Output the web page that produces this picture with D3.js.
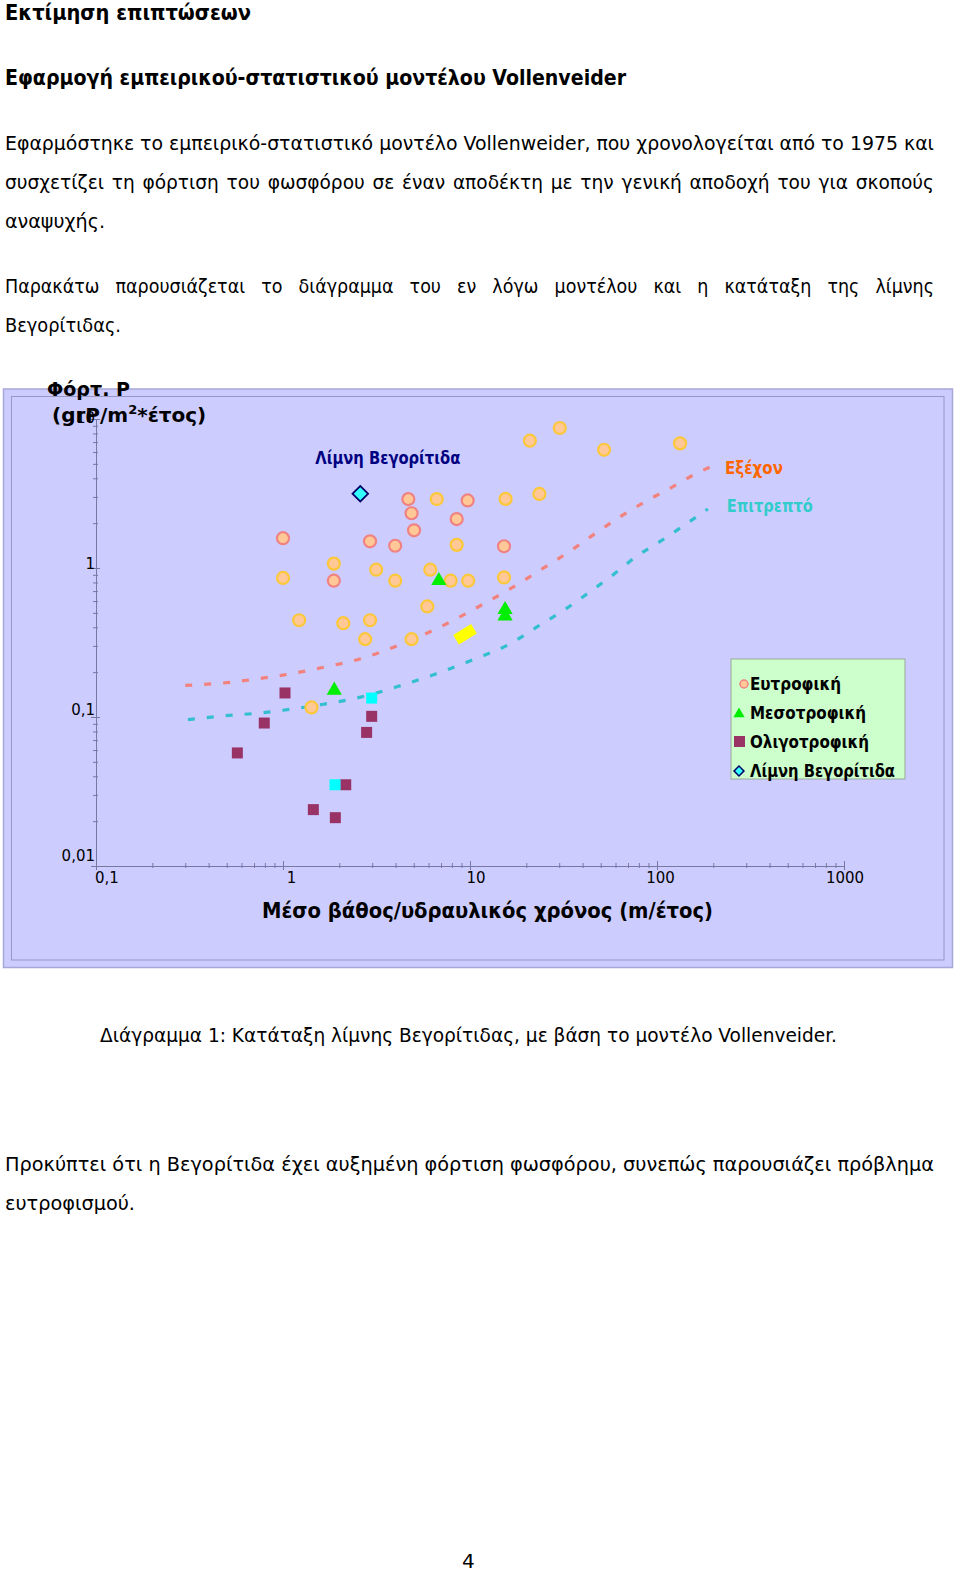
<!DOCTYPE html>
<html>
<head>
<meta charset="utf-8">
<script src="https://cdn.jsdelivr.net/npm/d3@7"></script>
<style>
  body { margin: 0; background: #fff; }
  svg text { font-family: "DejaVu Sans", Verdana, sans-serif; }
</style>
</head>
<body>
<svg id="page" width="960" height="1572"></svg>
<script>
// ---- values ----
// eutrophic lakes, pink outline
const eutroPinkX = [4.68, 4.87, 5.02, 9.72, 8.49, 1.0, 2.92, 3.98, 15.2, 1.87];
const eutroPinkY = [2.90, 2.33, 1.79, 2.84, 2.13, 1.585, 1.51, 1.41, 1.40, 0.822];
// eutrophic lakes, gold outline
const eutroGoldX = [20.9, 30.2, 52.1, 132.8, 6.64, 15.5, 23.5, 8.49, 1.87, 3.15, 6.13, 1.0,
                    3.98, 7.88, 9.78, 15.2, 5.91, 1.22, 2.10, 2.92, 2.75, 4.87, 1.42];
const eutroGoldY = [7.15, 8.70, 6.22, 6.86, 2.90, 2.91, 3.14, 1.43, 1.07, 0.974, 0.974, 0.858,
                    0.822, 0.822, 0.822, 0.864, 0.552, 0.446, 0.426, 0.446, 0.333, 0.333, 0.116];
const mesoX = [6.81, 15.4, 15.4, 1.88];
const mesoY = [0.822, 0.525, 0.476, 0.151];
const oligoX = [1.025, 0.794, 2.98, 2.80, 0.570, 2.165, 1.453, 1.905];
const oligoY = [0.145, 0.0911, 0.101, 0.0788, 0.0574, 0.0351, 0.0239, 0.0211];
const cyanSqX = [2.98, 1.897];
const cyanSqY = [0.134, 0.0351];
const lakeX = [2.59];
const lakeY = [3.15];
const yellowX = [8.42, 10.5];
const yellowY = [0.330, 0.391];

// Vollenweider limit curves
const excessX = [0.30, 0.50, 0.79, 1.0, 1.6, 2.6, 4.1, 6.7, 10.8, 16.8, 24.3, 34, 46.6, 64, 87, 118, 162, 192];
const excessY = [0.163, 0.170, 0.183, 0.191, 0.214, 0.246, 0.301, 0.394, 0.539, 0.738, 0.985, 1.29, 1.70, 2.22, 2.80, 3.44, 4.30, 4.76];
const permX = [0.31, 0.49, 0.79, 1.0, 1.6, 2.6, 4.1, 6.6, 10.6, 16.4, 22.8, 32.5, 43.8, 58.4, 77.9, 105, 141, 187];
const permY = [0.096, 0.102, 0.107, 0.111, 0.121, 0.136, 0.160, 0.195, 0.245, 0.310, 0.402, 0.531, 0.693, 0.902, 1.20, 1.52, 1.95, 2.49];

const xTickVals = [0.1, 1, 10, 100, 1000];
const xTickLabels = ['0,1', '1', '10', '100', '1000'];
const yTickVals = [0.01, 0.1, 1, 10];
const yTickLabels = ['0,01', '0,1', '1', '10'];
const legendLabels = ['Ευτροφική', 'Μεσοτροφική', 'Ολιγοτροφική', 'Λίμνη Βεγορίτιδα'];

// ---- page text ----
const svg = d3.select('#page');

function addLine(txt, x, y, w, opts = {}) {
  const t = svg.append('text')
    .attr('x', x).attr('y', y)
    .style('font-size', (opts.size || 20) + 'px')
    .style('fill', '#000')
    .text(txt);
  if (opts.bold) t.style('font-weight', 'bold');
  if (opts.family) t.style('font-family', opts.family);
  if (opts.ws) t.style('word-spacing', opts.ws + 'px');
  if (w) t.attr('textLength', w).attr('lengthAdjust', 'spacingAndGlyphs');
  return t;
}

const narrow = '"Liberation Sans Narrow", "DejaVu Sans Condensed", "Liberation Sans", sans-serif';
addLine('Εκτίμηση επιπτώσεων', 5, 20, 246, {bold: true, size: 22, family: narrow});
addLine('Εφαρμογή εμπειρικού-στατιστικού μοντέλου Vollenveider', 5, 85, 621, {bold: true, size: 22, family: narrow});
addLine('Εφαρμόστηκε το εμπειρικό-στατιστικό μοντέλο Vollenweider, που χρονολογείται από το 1975 και', 5, 150, 929);
addLine('συσχετίζει τη φόρτιση του φωσφόρου σε έναν αποδέκτη με την γενική αποδοχή του για σκοπούς', 5, 189, 929, {ws: 2});
addLine('αναψυχής.', 5, 228, 100);
addLine('Παρακάτω παρουσιάζεται το διάγραμμα του εν λόγω μοντέλου και η κατάταξη της λίμνης', 5, 293, 929, {ws: 12});
addLine('Βεγορίτιδας.', 5, 332, 116);
addLine('Διάγραμμα 1: Κατάταξη λίμνης Βεγορίτιδας, με βάση το μοντέλο Vollenveider.', 100, 1042, 737);
addLine('Προκύπτει ότι η Βεγορίτιδα έχει αυξημένη φόρτιση φωσφόρου, συνεπώς παρουσιάζει πρόβλημα', 5, 1171, 929);
addLine('ευτροφισμού.', 5, 1210, 130);
addLine('4', 462, 1568, 0);

// ---- chart ----
const chart = svg.append('g').attr('class', 'chart');
const frameCol = '#9898c4';
const axisCol = '#7878a4';

chart.append('rect')
  .attr('x', 3.5).attr('y', 389).attr('width', 949).attr('height', 578.5)
  .style('fill', '#ccccff').style('stroke', '#a8a8d8').style('stroke-width', 1.5);
chart.append('rect')
  .attr('x', 11.5).attr('y', 396.5).attr('width', 932.5).attr('height', 563.5)
  .style('fill', '#ccccff').style('stroke', frameCol).style('stroke-width', 1);

const x = d3.scaleLog().domain([0.1, 1000]).range([96, 844]);
const y = d3.scaleLog().domain([0.01, 10]).range([866, 419]);
// label positions sit slightly off the ticks in the original
const xLab = d3.scaleLog().domain([0.1, 1000]).range([107, 845]);
const yLab = d3.scaleLog().domain([0.01, 10]).range([861, 423]);

const isMajor = d => Math.abs(Math.log10(d) - Math.round(Math.log10(d))) < 1e-6;

const gx = chart.append('g')
  .attr('transform', 'translate(0,866)')
  .call(d3.axisBottom(x).tickValues(x.ticks()).tickFormat('').tickSizeOuter(0));
gx.selectAll('.tick line')
  .attr('y1', d => isMajor(d) ? -5 : -3)
  .attr('y2', d => isMajor(d) ? 4 : 2);

const gy = chart.append('g')
  .attr('transform', 'translate(96,0)')
  .call(d3.axisLeft(y).tickValues(y.ticks()).tickFormat('').tickSizeOuter(0));
gy.selectAll('.tick line')
  .attr('x1', d => isMajor(d) ? 4 : 2)
  .attr('x2', d => isMajor(d) ? -5 : -3);

[gx, gy].forEach(g => {
  g.select('.domain').attr('stroke', axisCol);
  g.selectAll('.tick line').attr('stroke', axisCol);
});

chart.append('g').selectAll('text')
  .data(xTickVals)
  .enter().append('text')
  .attr('x', d => xLab(d))
  .attr('y', 883)
  .style('text-anchor', 'middle')
  .style('font-size', '15px')
  .text((d, i) => xTickLabels[i]);

chart.append('g').selectAll('text')
  .data(yTickVals)
  .enter().append('text')
  .attr('x', 95)
  .attr('y', d => yLab(d))
  .style('text-anchor', 'end')
  .style('font-size', '15px')
  .text((d, i) => yTickLabels[i]);

// axis titles
chart.append('text')
  .attr('x', 47).attr('y', 396)
  .style('font-size', '20px').style('font-weight', 'bold')
  .attr('textLength', 83).attr('lengthAdjust', 'spacingAndGlyphs')
  .text('Φόρτ. P');
const yt = chart.append('text')
  .attr('x', 52).attr('y', 422)
  .style('font-size', '20px').style('font-weight', 'bold');
yt.append('tspan').text('(grP/m');
yt.append('tspan').attr('dy', -8).style('font-size', '13px').text('2');
yt.append('tspan').attr('dy', 8).text('*έτος)');

chart.append('text')
  .attr('x', 262).attr('y', 918)
  .style('font-size', '21px').style('font-weight', 'bold')
  .attr('textLength', 451).attr('lengthAdjust', 'spacingAndGlyphs')
  .text('Μέσο βάθος/υδραυλικός χρόνος (m/έτος)');

// limit curves
const line = d3.line().x(d => x(d[0])).y(d => y(d[1])).curve(d3.curveMonotoneX);
chart.append('path')
  .datum(d3.zip(excessX, excessY))
  .attr('d', line)
  .style('fill', 'none').style('stroke', '#f2827e')
  .style('stroke-width', 3.2).style('stroke-dasharray', '7 12');
chart.append('path')
  .datum(d3.zip(permX, permY))
  .attr('d', line)
  .style('fill', 'none').style('stroke', '#33bfcf')
  .style('stroke-width', 3.2).style('stroke-dasharray', '7 12');

const lastEx = excessX.length - 1;
chart.append('text')
  .attr('x', x(excessX[lastEx]) + 15).attr('y', y(excessY[lastEx]) + 7)
  .style('font-size', '17px').style('font-weight', 'bold').style('fill', '#ff6600')
  .attr('textLength', 58).attr('lengthAdjust', 'spacingAndGlyphs')
  .text('Εξέχον');
const lastP = permX.length - 1;
chart.append('text')
  .attr('x', x(permX[lastP]) + 19).attr('y', y(permY[lastP]) + 3)
  .style('font-size', '17px').style('font-weight', 'bold').style('fill', '#33cccc')
  .attr('textLength', 86).attr('lengthAdjust', 'spacingAndGlyphs')
  .text('Επιτρεπτό');

// yellow bar
chart.append('line')
  .attr('x1', x(yellowX[0])).attr('y1', y(yellowY[0]))
  .attr('x2', x(yellowX[1])).attr('y2', y(yellowY[1]))
  .style('stroke', '#ffff00').style('stroke-width', 11);

// circles
function drawCircles(xs, ys, stroke) {
  chart.append('g').selectAll('circle')
    .data(d3.zip(xs, ys))
    .enter().append('circle')
    .attr('cx', d => x(d[0]))
    .attr('cy', d => y(d[1]))
    .attr('r', 6)
    .style('fill', '#ffc896')
    .style('stroke', stroke)
    .style('stroke-width', 2.2);
}
drawCircles(eutroPinkX, eutroPinkY, '#f08282');
drawCircles(eutroGoldX, eutroGoldY, '#fcc83a');

// squares
function drawSquares(xs, ys, fill) {
  chart.append('g').selectAll('rect')
    .data(d3.zip(xs, ys))
    .enter().append('rect')
    .attr('x', d => x(d[0]) - 5.5)
    .attr('y', d => y(d[1]) - 5.5)
    .attr('width', 11).attr('height', 11)
    .style('fill', fill);
}
drawSquares(oligoX, oligoY, '#993366');
drawSquares(cyanSqX, cyanSqY, '#00ffff');

// triangles
chart.append('g').selectAll('path')
  .data(d3.zip(mesoX, mesoY))
  .enter().append('path')
  .attr('d', d3.symbol(d3.symbolTriangle, 100))
  .attr('transform', d => `translate(${x(d[0])},${y(d[1])})`)
  .style('fill', '#00ee00');

// lake Vegoritida
chart.append('g').selectAll('rect')
  .data(d3.zip(lakeX, lakeY))
  .enter().append('rect')
  .attr('x', -5.5).attr('y', -5.5).attr('width', 11).attr('height', 11)
  .attr('transform', d => `translate(${x(d[0])},${y(d[1])}) rotate(45)`)
  .style('fill', '#33ffff').style('stroke', '#000066').style('stroke-width', 1.8);

chart.append('text')
  .attr('x', x(lakeX[0]) - 45).attr('y', y(lakeY[0]) - 30)
  .style('font-size', '17px').style('font-weight', 'bold').style('fill', '#000080')
  .attr('textLength', 145).attr('lengthAdjust', 'spacingAndGlyphs')
  .text('Λίμνη Βεγορίτιδα');

// legend
const leg = chart.append('g').attr('transform', 'translate(731,659)');
leg.append('rect')
  .attr('width', 174).attr('height', 120)
  .style('fill', '#ccffcc').style('stroke', '#9aa89a');
const legW = [91, 116, 119, 145];
leg.selectAll('text')
  .data(legendLabels)
  .enter().append('text')
  .attr('x', 19)
  .attr('y', (d, i) => 31 + i * 29)
  .style('font-size', '17px').style('font-weight', 'bold')
  .attr('textLength', (d, i) => legW[i]).attr('lengthAdjust', 'spacingAndGlyphs')
  .text(d => d);
leg.append('circle')
  .attr('cx', 13).attr('cy', 25).attr('r', 4)
  .style('fill', '#ffc896').style('stroke', '#f08282').style('stroke-width', 1.5);
leg.append('path')
  .attr('d', d3.symbol(d3.symbolTriangle, 55))
  .attr('transform', 'translate(8,55)')
  .style('fill', '#00ee00');
leg.append('rect')
  .attr('x', 3).attr('y', 77).attr('width', 11).attr('height', 11)
  .style('fill', '#993366');
leg.append('rect')
  .attr('x', -3.5).attr('y', -3.5).attr('width', 7).attr('height', 7)
  .attr('transform', 'translate(8,112) rotate(45)')
  .style('fill', '#33ffff').style('stroke', '#000066').style('stroke-width', 1.5);
</script>
</body>
</html>
